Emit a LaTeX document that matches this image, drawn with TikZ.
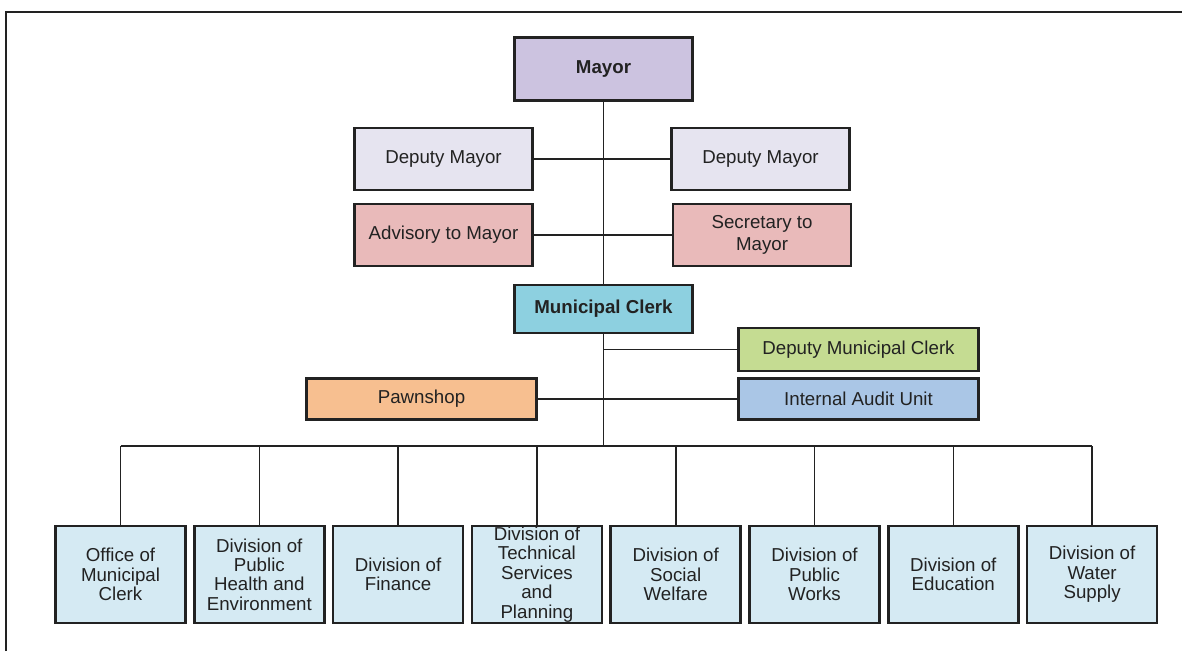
\documentclass[tikz,border=0pt]{standalone}
\usepackage{fontspec}
\setmainfont{Liberation Sans}
\definecolor{mayorfill}{RGB}{204,195,224}
\definecolor{deputyfill}{RGB}{230,228,240}
\definecolor{advisefill}{RGB}{233,186,186}
\definecolor{clerkfill}{RGB}{141,208,224}
\definecolor{dmcfill}{RGB}{197,220,146}
\definecolor{auditfill}{RGB}{170,198,230}
\definecolor{pawnfill}{RGB}{247,191,144}
\definecolor{divfill}{RGB}{213,234,243}
\definecolor{ink}{RGB}{34,34,34}
\tikzset{
  box/.style={draw=ink, line width=2.6pt, inner sep=0pt, align=center, text=ink,
    font=\fontsize{18.7}{19.4}\selectfont},
  wide/.style={box, minimum width=178pt, minimum height=62pt},
  unit/.style={box, minimum width=240pt, minimum height=43pt},
  division/.style={box, fill=divfill, minimum width=130pt, minimum height=97pt},
  link/.style={draw=ink, line width=1.6pt},
  frame/.style={draw=ink, line width=2pt}
}
\begin{document}
\begin{tikzpicture}[x=1pt, y=-1pt]
\useasboundingbox (0,0) rectangle (1182,651);
% page frame, open to the right and below
\draw[frame] (6,651) -- (6,12) -- (1182,12);

% leadership
\node[box, fill=mayorfill, minimum width=178pt, minimum height=63pt, font=\fontsize{18.7}{19.4}\selectfont\bfseries] (mayor) at (603.5,69) {Mayor};
\node[wide, fill=deputyfill] (depL) at (443.5,159) {Deputy Mayor};
\node[wide, fill=deputyfill] (depR) at (760.5,159) {Deputy Mayor};
\node[wide, fill=advisefill] (advisory) at (443.5,235) {Advisory to Mayor};
\node[wide, fill=advisefill, font=\fontsize{18.7}{21.5}\selectfont] (secretary) at (762,235) {Secretary to\\Mayor};
\node[box, fill=clerkfill, minimum width=178pt, minimum height=48pt, font=\fontsize{18.7}{19.4}\selectfont\bfseries] (clerk) at (603.5,309) {Municipal Clerk};

% units attached to the clerk
\node[unit, fill=dmcfill] (dmc) at (858.5,349.5) {Deputy Municipal Clerk};
\node[unit, fill=auditfill, minimum height=41pt] (audit) at (858.5,399) {Internal Audit Unit};
\node[unit, fill=pawnfill, minimum width=230pt, minimum height=41pt] (pawn) at (421.5,399) {Pawnshop};

% divisions
\node[division] (d1) at (120.5,574.5) {Office of\\Municipal\\Clerk};
\node[division] (d2) at (259.3,574.5) {Division of\\Public\\Health and\\Environment};
\node[division] (d3) at (398.1,574.5) {Division of\\Finance};
\node[division] (d4) at (536.9,574.5) {Division of\\Technical\\Services\\and\\Planning};
\node[division] (d5) at (675.7,574.5) {Division of\\Social\\Welfare};
\node[division] (d6) at (814.5,574.5) {Division of\\Public\\Works};
\node[division] (d7) at (953.3,574.5) {Division of\\Education};
\node[division] (d8) at (1092.1,574.5) {Division of\\Water\\Supply};

% connectors
\coordinate (hub) at (603.5,446);
\coordinate (busL) at (d1.north |- hub);
\coordinate (busR) at (d8.north |- hub);
\coordinate (dmcTap) at (603.5,349.5);
\draw[link] (mayor.south) -- (clerk.north);
\draw[link] (depL.east) -- (depR.west);
\draw[link] (advisory.east) -- (secretary.west);
\draw[link] (clerk.south) -- (hub);
\draw[link] (dmcTap) -- (dmc.west);
\draw[link] (pawn.east) -- (audit.west);
\draw[link] (busL) -- (busR);
\foreach \d in {d1,d2,d3,d4,d5,d6,d7,d8}
  \draw[link] (\d.north) -- (\d.north |- hub);
\end{tikzpicture}
\end{document}
